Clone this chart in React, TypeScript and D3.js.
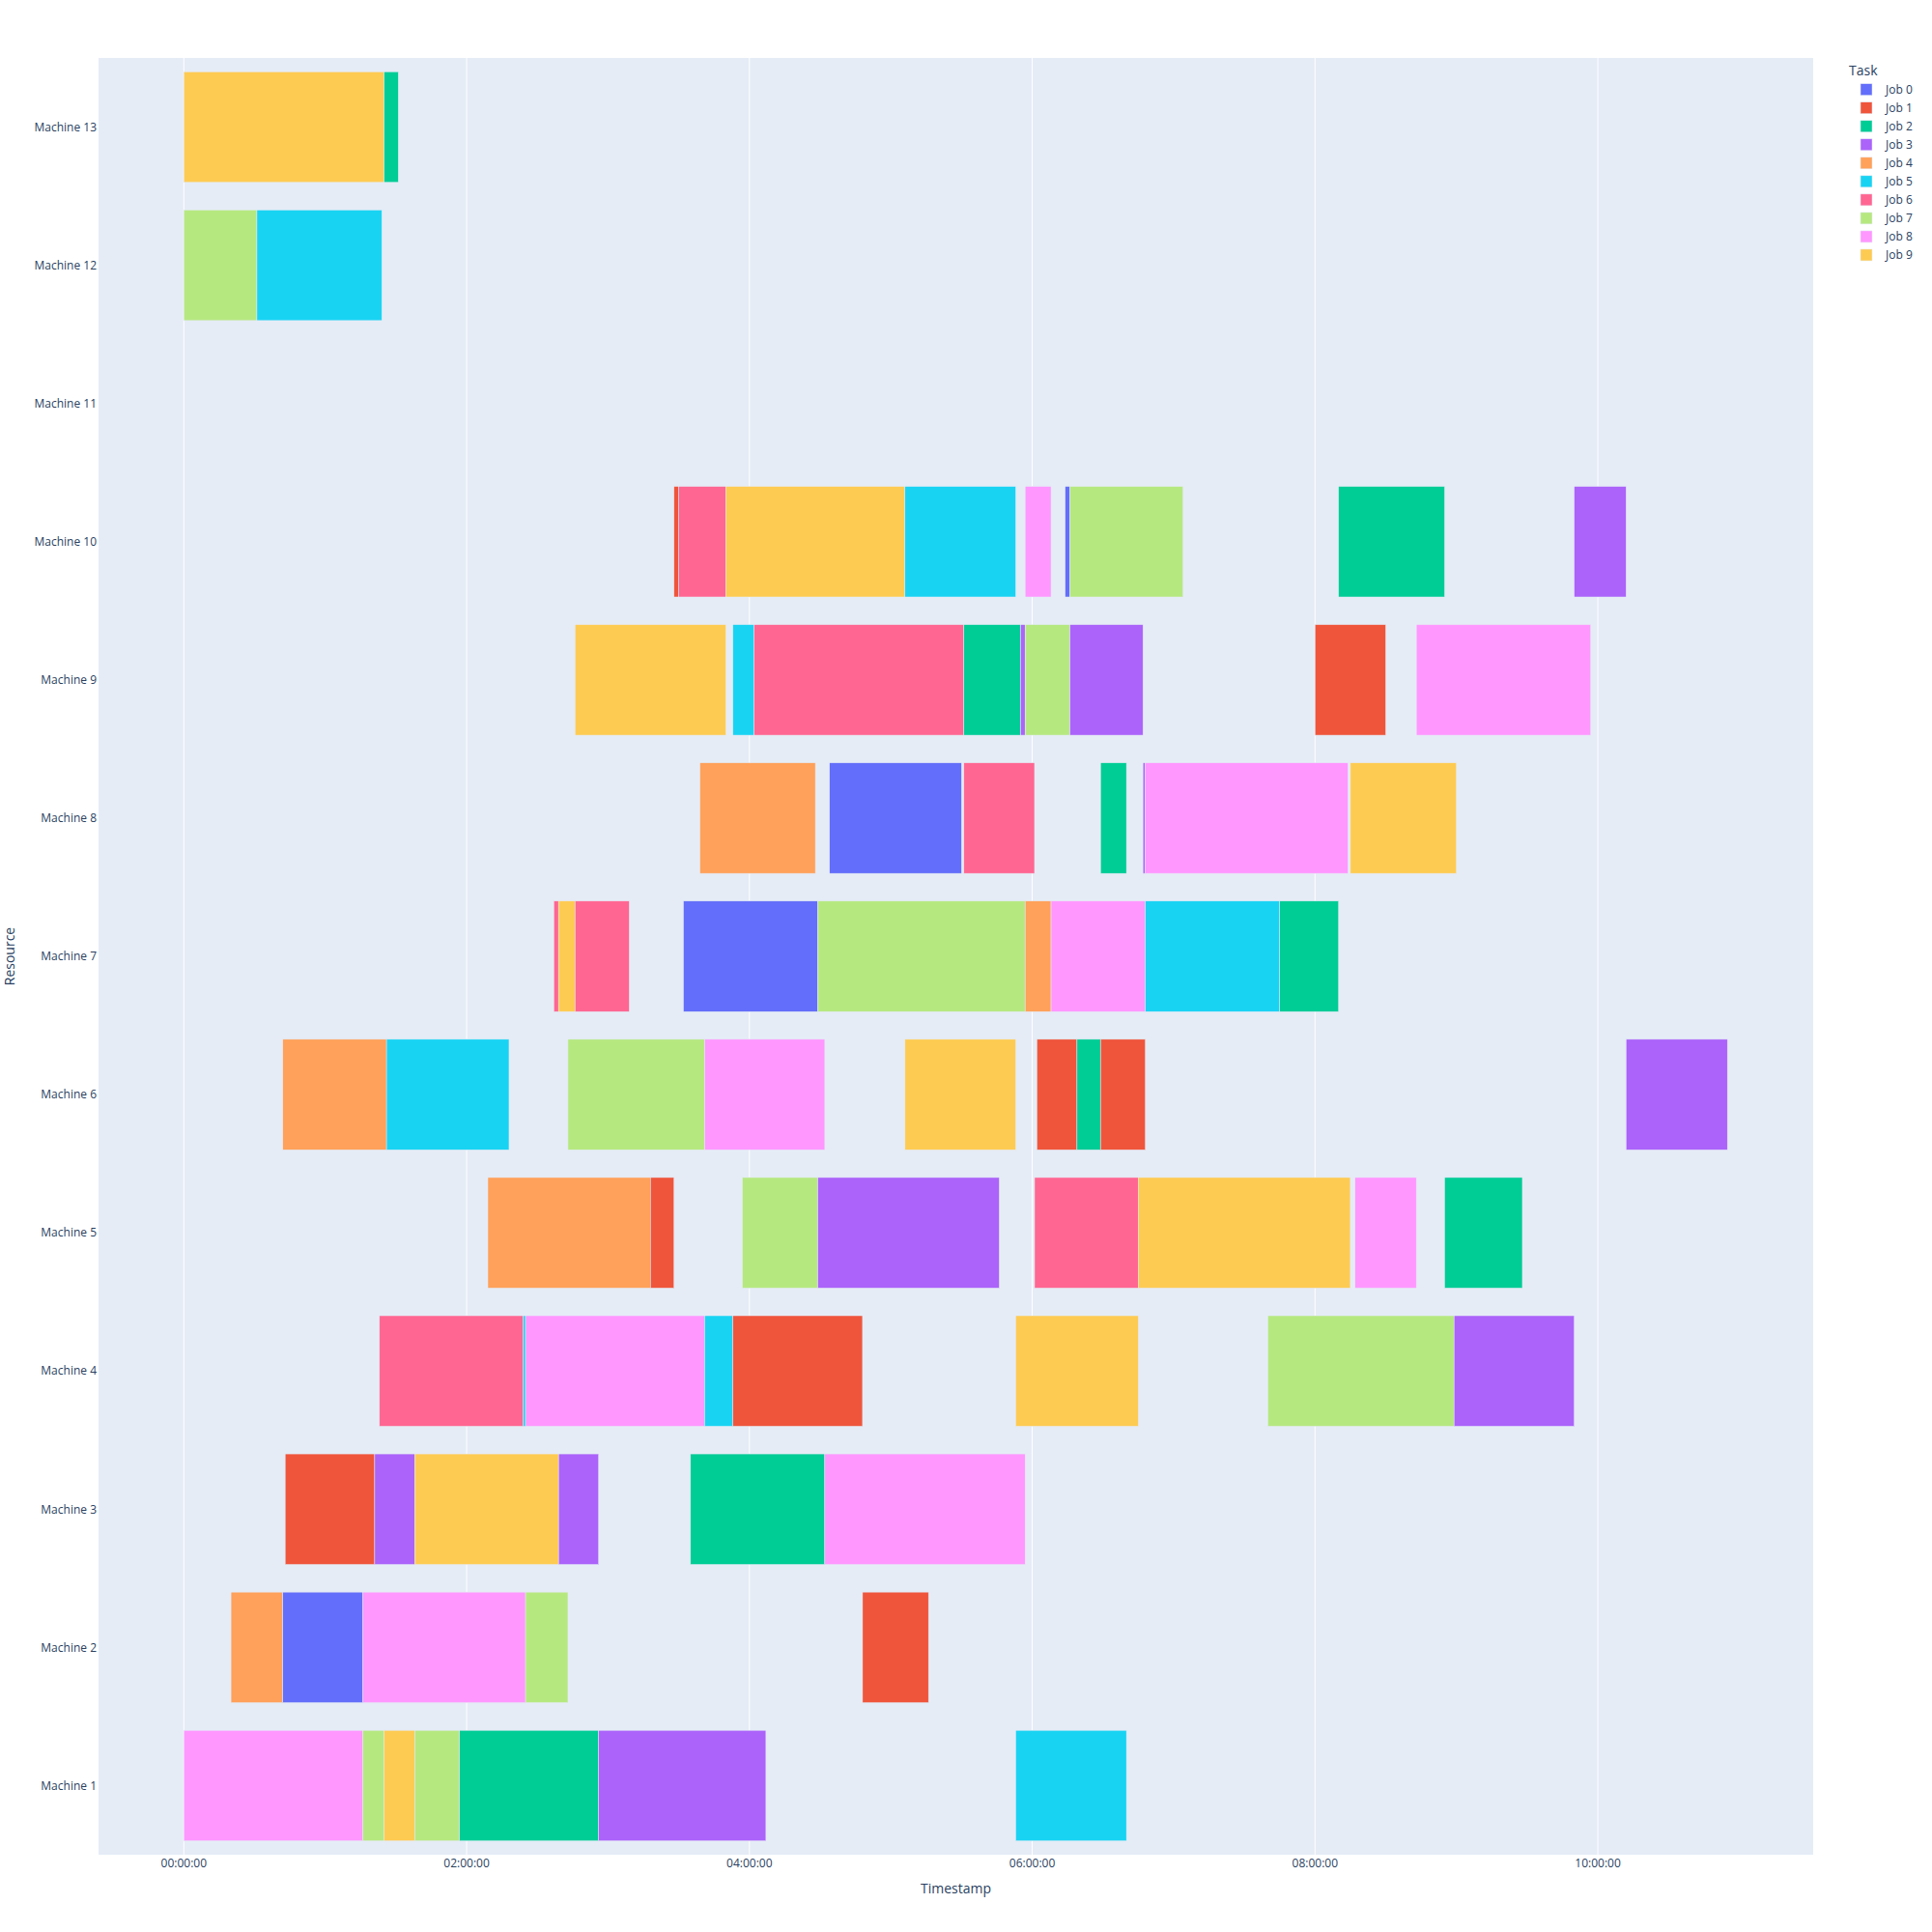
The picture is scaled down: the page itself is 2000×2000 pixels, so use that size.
import * as d3 from 'd3';

// Job shop schedule, times in minutes from 00:00:00
const machines = ['Machine 1', 'Machine 2', 'Machine 3', 'Machine 4', 'Machine 5', 'Machine 6', 'Machine 7',
  'Machine 8', 'Machine 9', 'Machine 10', 'Machine 11', 'Machine 12', 'Machine 13'];
const jobs = ['Job 0', 'Job 1', 'Job 2', 'Job 3', 'Job 4', 'Job 5', 'Job 6', 'Job 7', 'Job 8', 'Job 9'];
const jobColors = ['#636efa', '#EF553B', '#00cc96', '#ab63fa', '#FFA15A', '#19d3f3', '#FF6692', '#B6E880', '#FF97FF', '#FECB52'];

// [job, start, finish] per machine
const machine1 = [[8, 0, 76], [7, 76, 85], [9, 85, 98], [7, 98, 117], [2, 117, 176], [3, 176, 247], [5, 353, 400]];
const machine2 = [[4, 20, 42], [0, 42, 76], [8, 76, 145], [7, 145, 163], [1, 288, 316]];
const machine3 = [[1, 43, 81], [3, 81, 98], [9, 98, 159], [3, 159, 176], [2, 215, 272], [8, 272, 357]];
const machine4 = [[6, 83, 144], [5, 144, 145], [8, 145, 221], [5, 221, 233], [1, 233, 288], [9, 353, 405], [7, 460, 539], [3, 539, 590]];
const machine5 = [[4, 129, 198], [1, 198, 208], [7, 237, 269], [3, 269, 346], [6, 361, 405], [9, 405, 495], [8, 497, 523], [2, 535, 568]];
const machine6 = [[4, 42, 86], [5, 86, 138], [7, 163, 221], [8, 221, 272], [9, 306, 353], [1, 362, 379], [2, 379, 389], [1, 389, 408], [3, 612, 655]];
const machine7 = [[6, 157, 159], [9, 159, 166], [6, 166, 189], [0, 212, 269], [7, 269, 357], [4, 357, 368], [8, 368, 408], [5, 408, 465], [2, 465, 490]];
const machine8 = [[4, 219, 268], [0, 274, 330], [6, 331, 361], [2, 389, 400], [3, 407, 408], [8, 408, 494], [9, 495, 540]];
const machine9 = [[9, 166, 230], [5, 233, 242], [6, 242, 331], [2, 331, 355], [3, 355, 357], [7, 357, 376], [3, 376, 407], [1, 480, 510], [8, 523, 597]];
const machine10 = [[1, 208, 210], [6, 210, 230], [9, 230, 306], [5, 306, 353], [8, 357, 368], [0, 374, 376], [7, 376, 424], [2, 490, 535], [3, 590, 612]];
const machine11: number[][] = [];
const machine12 = [[7, 0, 31], [5, 31, 84]];
const machine13 = [[9, 0, 85], [2, 85, 91]];

const schedule = [machine1, machine2, machine3, machine4, machine5, machine6, machine7,
  machine8, machine9, machine10, machine11, machine12, machine13];

const xTicks = [0, 120, 240, 360, 480, 600];

const W = 2000;
const H = 2000;
const left = 102;
const right = 1877;
const top = 60;
const bottom = 1920;
const font = '"Open Sans", verdana, arial, sans-serif';
const textColor = '#2a3f5f';

const fmt = (m: number) => {
  const h = Math.floor(m / 60);
  const mm = m % 60;
  return `${String(h).padStart(2, '0')}:${String(mm).padStart(2, '0')}:00`;
};

export default function App() {
  const x = d3.scaleLinear().domain([-36.2, 691.4]).range([left, right]);
  const y = d3.scaleBand().domain(machines.slice().reverse()).range([top, bottom]).paddingInner(0.2).paddingOuter(0.1);

  const bars = schedule.flatMap((rows, mi) =>
    rows.map(([job, s, f], i) => ({ key: `${mi}-${i}`, machine: machines[mi], job, s, f })));

  return (
    <svg width={W} height={H} style={{ position: 'absolute', left: 0, top: 0, background: '#fff' }} fontFamily={font}>
      <rect x={left} y={top} width={right - left} height={bottom - top} fill="#E5ECF6" />
      {xTicks.map(t => (
        <line key={t} x1={x(t)} x2={x(t)} y1={top} y2={bottom} stroke="#fff" strokeWidth={1} />
      ))}
      {bars.map(b => (
        <rect key={b.key}
          x={x(b.s)} width={x(b.f) - x(b.s)}
          y={(y(b.machine) as number)} height={y.bandwidth()}
          fill={jobColors[b.job]} stroke="#E5ECF6" strokeWidth={0.5} />
      ))}
      {xTicks.map(t => (
        <text key={t} x={x(t)} y={bottom + 13} textAnchor="middle" fontSize={12} fill={textColor}>{fmt(t)}</text>
      ))}
      {machines.map(m => (
        <text key={m} x={100} y={(y(m) as number) + y.bandwidth() / 2} dy="0.35em" textAnchor="end" fontSize={12} fill={textColor}>{m}</text>
      ))}
      <text x={(left + right) / 2} y={1960} textAnchor="middle" fontSize={14} fill={textColor}>Timestamp</text>
      <text transform={`translate(15,${(top + bottom) / 2}) rotate(-90)`} textAnchor="middle" fontSize={14} fill={textColor}>Resource</text>
      <g>
        <text x={1914} y={78} fontSize={14} fill={textColor}>Task</text>
        {jobs.map((j, i) => (
          <g key={j} transform={`translate(0,${92.7 + i * 19.03})`}>
            <rect x={1926} y={-6} width={12} height={12} fill={jobColors[i]} stroke="#E5ECF6" strokeWidth={0.5} />
            <text x={1952} y={0} dy="0.35em" fontSize={12} fill={textColor}>{j}</text>
          </g>
        ))}
      </g>
    </svg>
  );
}
